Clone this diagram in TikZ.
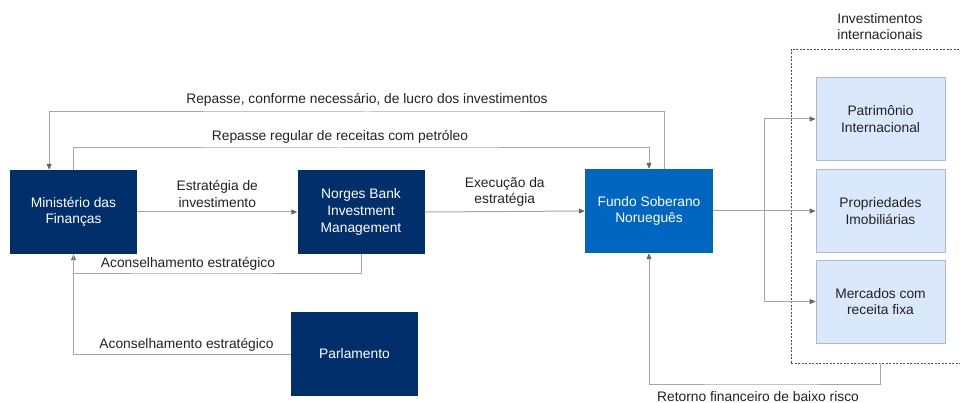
\documentclass[tikz,border=0pt]{standalone}
\usepackage{fontspec}
\setmainfont{Liberation Sans}
\usetikzlibrary{arrows.meta}
\definecolor{navy}{RGB}{0,47,108}
\definecolor{fundoblue}{RGB}{0,102,192}
\definecolor{lightbox}{RGB}{218,232,252}
\definecolor{lightedge}{RGB}{176,186,204}
\definecolor{linegray}{RGB}{166,166,166}
\definecolor{txt}{RGB}{34,34,34}
\begin{document}
\begin{tikzpicture}[x=1pt,y=-1pt,
  every node/.style={font=\fontsize{13.8}{16.6}\selectfont, text=txt},
  darkbox/.style={fill=navy, text=white, minimum width=127pt, minimum height=84pt, align=center, inner sep=0pt},
  fundobox/.style={fill=fundoblue, text=white, minimum width=128pt, minimum height=84pt, align=center, inner sep=0pt},
  invbox/.style={fill=lightbox, draw=lightedge, line width=0.8pt, minimum width=129pt, minimum height=83pt, align=center, inner sep=0pt},
  line/.style={draw=linegray, line width=1pt},
  arr/.style={line, -{Triangle[length=6pt,width=5pt,fill=gray!80!black,color=gray!80!black]}}]

\useasboundingbox (0,0) rectangle (960,403);

\node (grp) [draw=txt!80, dash pattern=on 2pt off 1.5pt, line width=0.7pt, minimum width=179pt, minimum height=314pt] at (880.5,206) {};
\node (grplabel) at (880,26.5) [align=center] {Investimentos\\internacionais};

\node (min) [darkbox] at (73.5,212) {Ministério das\\Finanças};
\node (norges) [darkbox] at (361,212) {Norges Bank\\Investment\\Management};
\node (fundo) [fundobox] at (649,211) {Fundo Soberano\\Noruegu\^es};
\node (parl) [darkbox] at (354.5,354) {Parlamento};
\node (pat) [invbox] at (880.5,119) {Patrimônio\\Internacional};
\node (prop) [invbox] at (880.5,211) {Propriedades\\Imobiliárias};
\node (merc) [invbox] at (880.5,301.5) {Mercados com\\receita fixa};
\coordinate (split) at (764,211);

\draw[arr] (fundo.70) |- (367,112) node[above=1.5pt] {Repasse, conforme necessário, de lucro dos investimentos} -| (min.120);
\draw[arr] (min.north) |- (340,148) node[above=1pt] {Repasse regular de receitas com petróleo} -| (fundo.north);
\draw[arr] (min.east) -- (norges.west) node[midway, above=1pt, align=center] {Estratégia de\\investimento};
\draw[arr] (norges.east) -- (fundo.west) node[midway, above=1pt, align=center] {Execução da\\estratégia};
\draw[arr] (norges.south) |- (188,273) node[above=-1.5pt] {Aconselhamento estratégico} -| (min.south);
\draw[line] (parl.west) -| (min.south) node[pos=0.24, above=-1pt] {Aconselhamento estratégico};
\draw[line] (fundo.east) -- (split);
\draw[arr] (split) |- (pat.west);
\draw[arr] (split) -- (prop.west);
\draw[arr] (split) |- (merc.west);
\draw[arr] (grp.south) |- (758,384) node[below=4pt] {Retorno financeiro de baixo risco} -| (fundo.south);
\end{tikzpicture}
\end{document}
